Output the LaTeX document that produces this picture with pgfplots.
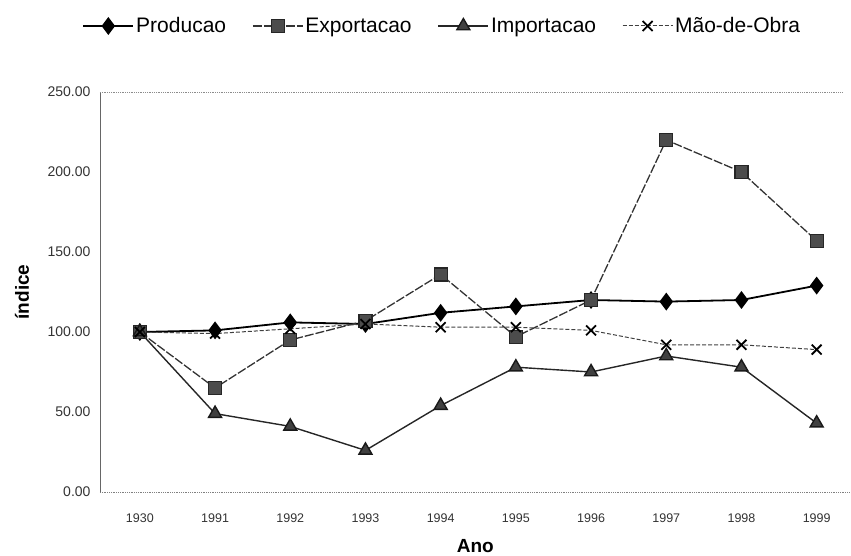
\documentclass[border=0pt]{standalone}
\usepackage{fontspec}
\setmainfont{Liberation Sans}
\usepackage{pgfplots}
\pgfplotsset{compat=1.18}
\usetikzlibrary{calc}
\begin{document}
\begin{tikzpicture}
\begin{axis}[name=ax, scale only axis, width=750.5pt, height=400pt,
  xmin=-0.53, xmax=9.45, ymin=0, ymax=250,
  xtick={0,...,9}, xticklabels={1930,1991,1992,1993,1994,1995,1996,1997,1998,1999},
  ytick={0,50,...,250},
  /pgf/number format/assume math mode=true,
  yticklabel style={/pgf/number format/fixed, /pgf/number format/fixed zerofill, /pgf/number format/precision=2, xshift=-6pt, font=\fontsize{14}{16}\selectfont},
  ticklabel style={text=black!80},
  xticklabel style={anchor=center, yshift=-26pt, font=\fontsize{12.5}{14}\selectfont},
  major tick length=0pt,
  axis x line*=bottom, axis y line*=left,
  x axis line style={black!50, densely dotted, line width=0.8pt},
  y axis line style={black!60, line width=0.9pt},
  xlabel={\textbf{Ano}}, ylabel={\textbf{índice}},
  label style={font=\fontsize{19}{21}\selectfont},
  xlabel style={at={(axis description cs:0.5,-0.135)}, anchor=center},
  ylabel style={at={(axis description cs:-0.104,0.5)}, anchor=center},
  legend columns=4,
  legend style={at={(axis description cs:0.456,1.165)}, anchor=center, draw=none,
    font=\fontsize{21}{23}\selectfont, /tikz/every even column/.append style={column sep=24pt}},
  legend image code/.code={\draw[mark repeat=2,mark phase=2,#1] plot coordinates {(0pt,0pt)(25pt,0pt)(50pt,0pt)};},
  clip=false,
]
\draw[black!45, densely dotted, line width=0.8pt] (rel axis cs:0,1) -- (rel axis cs:0.99,1);
\addplot[black, line width=1.8pt, mark=diamond*, mark size=7.5pt, mark options={solid, fill=black}]
  coordinates {(0,100)(1,101)(2,106)(3,105)(4,112)(5,116)(6,120)(7,119)(8,120)(9,129)};
\addlegendentry{Producao}
\addplot[black!80, line width=1.3pt, dash pattern=on 9pt off 2pt, mark=square*, mark size=6.5pt, mark options={solid, fill=black!70, draw=black!85}]
  coordinates {(0,100)(1,65)(2,95)(3,107)(4,136)(5,97)(6,120)(7,220)(8,200)(9,157)};
\addlegendentry{Exportacao}
\addplot[black!85, line width=1.4pt, mark=triangle*, mark size=7.5pt, mark options={solid, fill=black!75, draw=black!90}]
  coordinates {(0,100)(1,49)(2,41)(3,26)(4,54)(5,78)(6,75)(7,85)(8,78)(9,43)};
\addlegendentry{Importacao}
\addplot[black!75, line width=1pt, dash pattern=on 4pt off 2pt, mark=x, mark size=7pt, mark options={solid, black, line width=1.8pt}]
  coordinates {(0,100)(1,99)(2,102)(3,105)(4,103)(5,103)(6,101)(7,92)(8,92)(9,89)};
\addlegendentry{Mão-de-Obra}
\end{axis}
\path[use as bounding box] ($(ax.south west)+(-100pt,-63pt)$) rectangle ($(ax.south west)+(751pt,492pt)$);
\end{tikzpicture}
\end{document}
